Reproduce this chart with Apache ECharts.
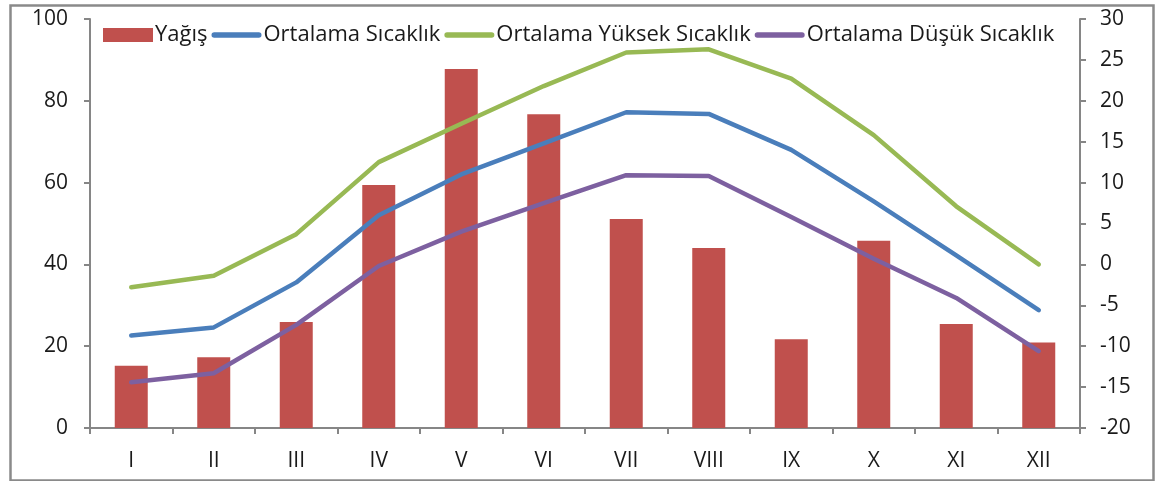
<!DOCTYPE html>
<html>
<head>
<meta charset="utf-8">
<script src="https://cdn.jsdelivr.net/npm/echarts@6/dist/echarts.min.js"></script>
<style>
html,body{margin:0;padding:0;background:#fff;}
#chart{width:1159px;height:481px;}
</style>
</head>
<body>
<div id="chart"></div>
<script>
const months = ['I','II','III','IV','V','VI','VII','VIII','IX','X','XI','XII'];
const yagis = [15.2, 17.3, 25.9, 59.4, 87.8, 76.7, 51.1, 44.0, 21.7, 45.8, 25.4, 20.9];
const ortSicaklik = [-8.7, -7.7, -2.2, 6.0, 11.0, 14.8, 18.6, 18.4, 14.0, 7.7, 1.1, -5.6];
const yuksekSicaklik = [-2.8, -1.4, 3.7, 12.5, 17.2, 21.8, 25.9, 26.3, 22.7, 15.8, 7.1, 0.0];
const dusukSicaklik = [-14.4, -13.3, -7.4, -0.2, 4.0, 7.5, 10.9, 10.8, 5.8, 0.7, -4.1, -10.6];
const seriesNames = ['Yağış', 'Ortalama Sıcaklık', 'Ortalama Yüksek Sıcaklık', 'Ortalama Düşük Sıcaklık'];

const FONT = '"Open Sans", "Noto Sans", sans-serif';
const axisGray = '#868686';
const lineIcon = 'path://M3,0 L53,0 A3,3 0 0 1 53,6 L3,6 A3,3 0 0 1 3,0 Z';
const chart = echarts.init(document.getElementById('chart'), null, {renderer: 'canvas'});
const lineSeries = (name, data, color) => ({
  name, type: 'line', yAxisIndex: 1, data,
  symbol: 'none', smooth: false,
  lineStyle: {color, width: 4.5, cap: 'round', join: 'round'},
  itemStyle: {color}
});
chart.setOption({
  animation: false,
  textStyle: {fontFamily: FONT},
  graphic: [{
    type: 'rect', left: 8, top: 3, z: -1,
    shape: {width: 1143, height: 475},
    style: {fill: 'none', stroke: '#8a8a8a', lineWidth: 2.5}
  }],
  legend: {
    left: 98, top: 19, itemGap: 4, itemWidth: 50, itemHeight: 14,
    symbolKeepAspect: true,
    textStyle: {fontFamily: FONT, fontSize: 22, color: '#1a1a1a', padding: [0,0,0,-3]},
    data: [
      {name: seriesNames[0], icon: 'rect'},
      {name: seriesNames[1], icon: lineIcon},
      {name: seriesNames[2], icon: lineIcon},
      {name: seriesNames[3], icon: lineIcon}
    ]
  },
  grid: {left: 90, right: 79, top: 19, bottom: 53, containLabel: false},
  xAxis: {
    type: 'category', data: months,
    axisLine: {lineStyle: {color: axisGray, width: 2}},
    axisTick: {show: true, length: 6, lineStyle: {color: axisGray, width: 2}},
    axisLabel: {fontFamily: FONT, fontSize: 21, color: '#1a1a1a', margin: 23}
  },
  yAxis: [{
    type: 'value', min: 0, max: 100, interval: 20, position: 'left',
    axisLine: {show: true, lineStyle: {color: axisGray, width: 2}},
    axisTick: {show: true, length: 6, lineStyle: {color: axisGray, width: 2}},
    splitLine: {show: false},
    axisLabel: {fontFamily: FONT, fontSize: 21, color: '#1a1a1a', margin: 22}
  }, {
    type: 'value', min: -20, max: 30, interval: 5, position: 'right',
    axisLine: {show: true, lineStyle: {color: axisGray, width: 2}},
    axisTick: {show: true, length: 6, lineStyle: {color: axisGray, width: 2}},
    splitLine: {show: false},
    axisLabel: {fontFamily: FONT, fontSize: 21, color: '#1a1a1a', margin: 20}
  }],
  series: [
    {name: seriesNames[0], type: 'bar', yAxisIndex: 0, data: yagis, barWidth: '40%',
     itemStyle: {color: '#C0504D'}},
    lineSeries(seriesNames[1], ortSicaklik, '#4A7EBB'),
    lineSeries(seriesNames[2], yuksekSicaklik, '#98B954'),
    lineSeries(seriesNames[3], dusukSicaklik, '#7D60A0')
  ]
});
</script>
</body>
</html>
